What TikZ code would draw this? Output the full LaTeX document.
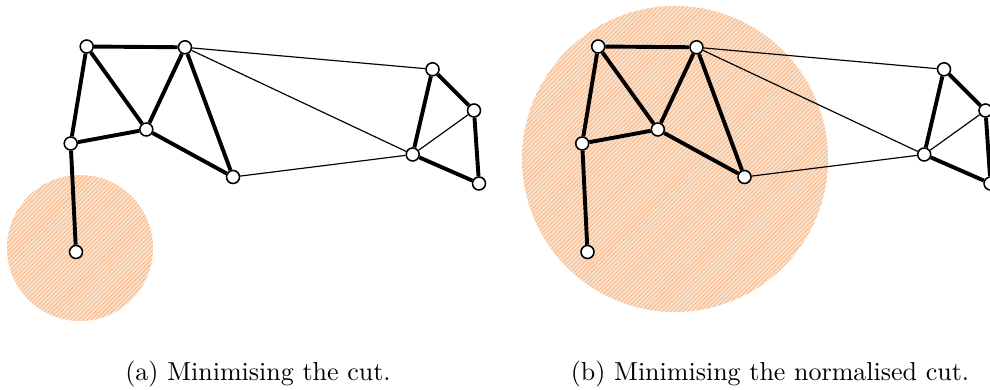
\documentclass[tikz,border=0pt]{standalone}
\usetikzlibrary{patterns.meta,backgrounds}
\definecolor{peach}{RGB}{252,226,204}
\definecolor{hatch}{RGB}{247,186,140}
\tikzset{
  vtx/.style={circle,draw=black,fill=white,line width=0.6pt,inner sep=0pt,minimum size=5pt},
  heavy/.style={line width=1.5pt},
  light/.style={line width=0.45pt},
  region/.style={fill=peach},
  regionhatch/.style={pattern={Lines[angle=45,distance=1.15pt,line width=0.35pt]},pattern color=hatch},
  captext/.style={anchor=base,font=\normalsize}
}
\begin{document}
\begin{tikzpicture}[x=0.3846pt,y=-0.3846pt]
\useasboundingbox (0,0) rectangle (990,390);
\clip (0,0) rectangle (990,390);
\foreach \p/\dx in {a/0,b/511.5}{
  \node[vtx] (\p A) at (86.7+\dx,46.5) {};
  \node[vtx] (\p B) at (185+\dx,47.3) {};
  \node[vtx] (\p C) at (146.3+\dx,129.5) {};
  \node[vtx] (\p D) at (70.7+\dx,143.5) {};
  \node[vtx] (\p E) at (233+\dx,177) {};
  \node[vtx] (\p F) at (76+\dx,252) {};
  \node[vtx] (\p G) at (432.5+\dx,69.3) {};
  \node[vtx] (\p H) at (474+\dx,110.5) {};
  \node[vtx] (\p I) at (412.7+\dx,154.5) {};
  \node[vtx] (\p J) at (479+\dx,183.5) {};
}
\begin{scope}[on background layer]
% shaded regions
\fill[region] (80,248) circle[radius=73];
\fill[regionhatch] (80,248) circle[radius=73];
\fill[region] (675,159) circle[radius=153];
\fill[regionhatch] (675,159) circle[radius=153];
\foreach \p in {a,b}{
  \draw[heavy] (\p A) -- (\p B);
  \draw[heavy] (\p A) -- (\p C);
  \draw[heavy] (\p A) -- (\p D);
  \draw[heavy] (\p B) -- (\p C);
  \draw[heavy] (\p B) -- (\p E);
  \draw[heavy] (\p C) -- (\p D);
  \draw[heavy] (\p C) -- (\p E);
  \draw[heavy] (\p D) -- (\p F);
  \draw[heavy] (\p G) -- (\p I);
  \draw[heavy] (\p G) -- (\p H);
  \draw[heavy] (\p H) -- (\p J);
  \draw[heavy] (\p I) -- (\p J);
  \draw[light] (\p B) -- (\p G);
  \draw[light] (\p B) -- (\p I);
  \draw[light] (\p E) -- (\p I);
  \draw[light] (\p H) -- (\p I);
}
\end{scope}
\node[captext] (capa) at (258,381) {(a) Minimising the cut.};
\node[captext] (capb) at (770,381) {(b) Minimising the normalised cut.};
\end{tikzpicture}
\end{document}
